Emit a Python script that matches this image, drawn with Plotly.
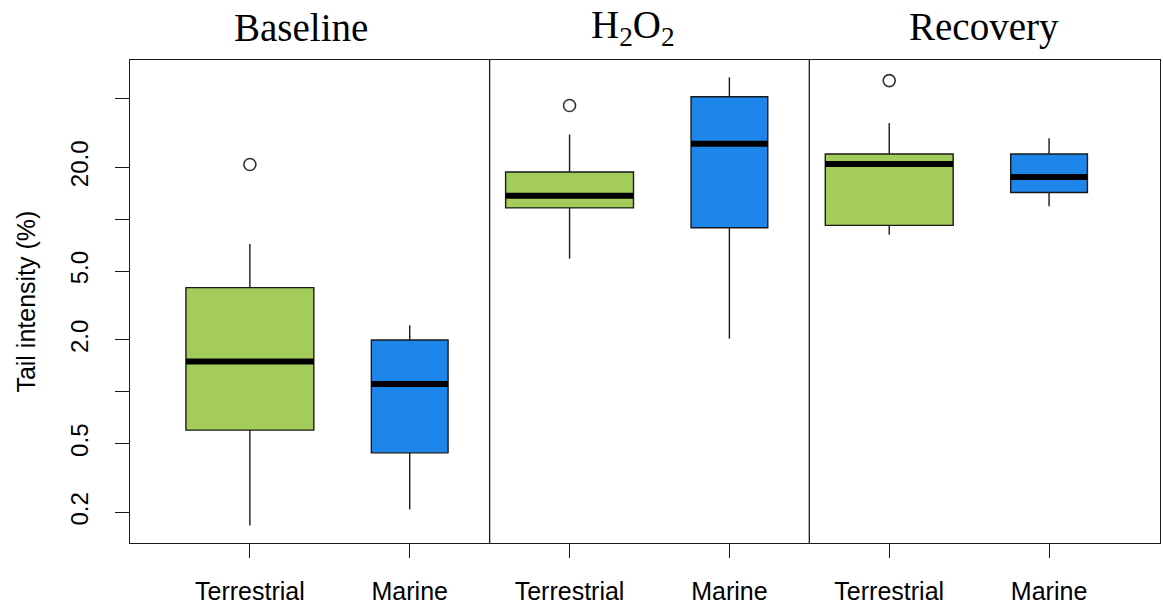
import plotly.graph_objects as go

# ---- data ----
groups = ["Baseline", "H<sub>2</sub>O<sub>2</sub>", "Recovery"]
categories = ["Terrestrial", "Marine", "Terrestrial", "Marine", "Terrestrial", "Marine"]
positions = [1, 2, 3, 4, 5, 6]
lower_whisker = [0.168, 0.208, 5.9, 2.03, 8.14, 11.9]
q1 = [0.60, 0.443, 11.65, 8.94, 9.22, 14.3]
median = [1.50, 1.11, 13.7, 27.4, 20.9, 17.6]
q3 = [4.02, 2.0, 18.8, 51.3, 23.9, 23.9]
upper_whisker = [7.2, 2.43, 31.0, 66.7, 36.2, 29.5]
outlier_pos = [1, 3, 5]
outlier_val = [20.8, 45.7, 63.7]
box_widths = [0.8, 0.48, 0.8, 0.48, 0.8, 0.48]

y_tickvals = [0.2, 0.5, 2, 5, 20]
y_ticktext = ["0.2", "0.5", "2.0", "5.0", "20.0"]
y_minor_tickvals = [1, 10, 50]

GREEN = "#A3CC5B"
BLUE = "#1E86EB"
colors = [GREEN, BLUE, GREEN, BLUE, GREEN, BLUE]

fig = go.Figure()

for i in range(len(positions)):
    fig.add_trace(go.Box(
        x=[positions[i]],
        q1=[q1[i]], median=[median[i]], q3=[q3[i]],
        lowerfence=[lower_whisker[i]], upperfence=[upper_whisker[i]],
        width=box_widths[i],
        fillcolor=colors[i],
        line=dict(color="#1a1a1a", width=1.4),
        whiskerwidth=0,
        boxpoints=False,
        showlegend=False,
        hoverinfo="skip",
    ))
    # thick median bar
    fig.add_trace(go.Scatter(
        x=[positions[i] - box_widths[i] / 2, positions[i] + box_widths[i] / 2],
        y=[median[i], median[i]],
        mode="lines",
        line=dict(color="black", width=6),
        showlegend=False,
        hoverinfo="skip",
    ))

fig.add_trace(go.Scatter(
    x=outlier_pos, y=outlier_val, mode="markers",
    marker=dict(symbol="circle-open", size=12, color="#333333", line=dict(width=1.6)),
    showlegend=False, hoverinfo="skip",
))

# panel dividers
for xv in [2.5, 4.5]:
    fig.add_shape(type="line", xref="x", yref="paper", x0=xv, x1=xv, y0=0, y1=1,
                  line=dict(color="#1a1a1a", width=1.3))

# panel titles
title_x = [1.322, 3.4, 5.594]
for tx, g in zip(title_x, groups):
    fig.add_annotation(x=tx, xref="x", y=1.068, yref="paper", text=g, showarrow=False,
                       xanchor="center", yanchor="middle",
                       font=dict(family="Liberation Serif", size=39, color="black"))

# y-axis title
fig.add_annotation(x=(25 - 130) / 1031, xref="paper", y=0.5, yref="paper",
                   text="Tail intensity (%)", textangle=-90, showarrow=False,
                   xanchor="center", yanchor="middle",
                   font=dict(family="Liberation Sans", size=25, color="black"))

fig.update_layout(
    width=1163, height=607,
    margin=dict(l=130, r=2, t=60, b=61),
    paper_bgcolor="white", plot_bgcolor="white",
    boxmode="overlay",
    showlegend=False,
    xaxis=dict(
        range=[0.25, 6.694],
        tickvals=positions, ticktext=categories,
        ticks="outside", ticklen=14, tickwidth=1.2, tickcolor="#1a1a1a",
        showline=True, linecolor="#1a1a1a", linewidth=1.3, mirror=True,
        showgrid=False, zeroline=False,
        tickfont=dict(family="Liberation Sans", size=25, color="black"),
        ticklabelstandoff=12,
    ),
    yaxis=dict(
        type="log",
        range=[-0.876, 1.9235],
        tickvals=y_tickvals, ticktext=y_ticktext,
        tickangle=-90,
        ticks="outside", ticklen=14, tickwidth=1.2, tickcolor="#1a1a1a",
        minor=dict(tickvals=y_minor_tickvals, ticks="outside", ticklen=14,
                   tickwidth=1.2, tickcolor="#1a1a1a", showgrid=False),
        showline=True, linecolor="#1a1a1a", linewidth=1.3, mirror=True,
        showgrid=False, zeroline=False,
        tickfont=dict(family="Liberation Sans", size=24, color="black"),
        ticklabelstandoff=17,
    ),
)

fig.write_html("out.html")
